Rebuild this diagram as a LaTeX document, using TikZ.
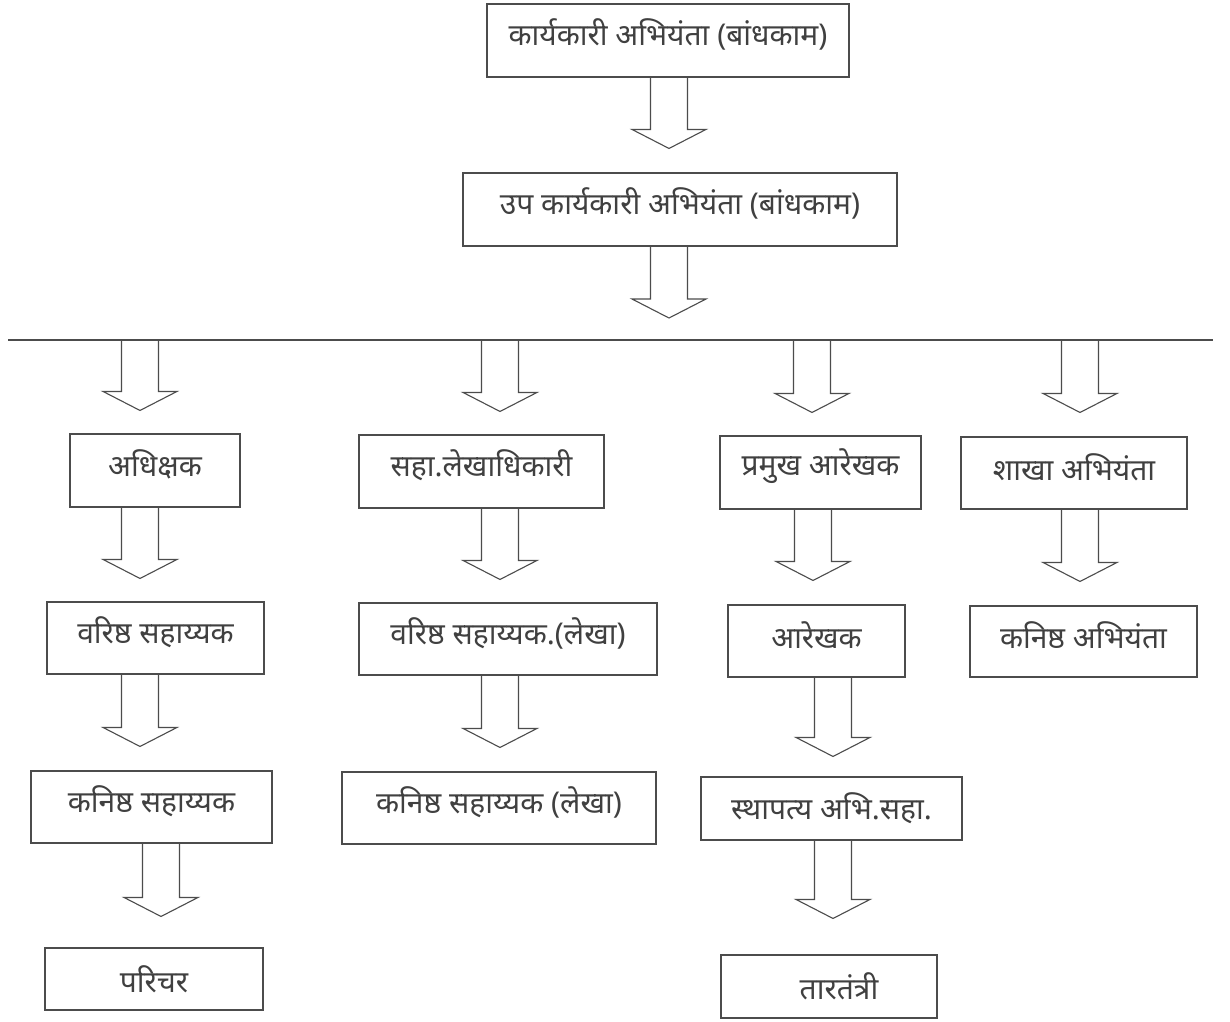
\documentclass[tikz,border=0pt]{standalone}
\usepackage{fontspec}
\newfontfamily\deva[Script=Devanagari]{Noto Sans}
\usetikzlibrary{calc}

\tikzset{
  post/.style 2 args={draw=black!70, line width=1.1pt, minimum width=#1, minimum height=#2,
    inner sep=0pt, font=\deva\fontsize{30}{34}\selectfont, text=black!75},
  blockarr/.style={draw=black!70, line width=1.1pt, line join=miter},
}
% text sits in the upper part of each box
\newcommand\lbl[1]{\raisebox{6pt}[\height][\depth]{#1}}
% block arrow: from, to, x, gap above target
\newcommand\barrow[4]{%
  \draw[blockarr] let \p1=(#1), \p2=(#2) in
    (#3-18.5,\y1) -- (#3-18.5,\y2+#4+19) -- (#3-37,\y2+#4+19) -- (#3,\y2+#4)
    -- (#3+37,\y2+#4+19) -- (#3+18.5,\y2+#4+19) -- (#3+18.5,\y1);
}

\begin{document}
\begin{tikzpicture}[x=1pt, y=-1pt]
    \useasboundingbox[fill=white] (0,0) rectangle (1230,1021);

    \node[post={362}{73}] (exe) at (668,40.5) {\lbl{कार्यकारी अभियंता (बांधकाम)}};
    \node[post={434}{73}] (dyexe) at (680,209.5) {\lbl{उप कार्यकारी अभियंता (बांधकाम)}};

    \coordinate (busL) at (8,340);
    \coordinate (busR) at (1213,340);
    \draw[blockarr] (busL) -- (busR);

    % first row
    \node[post={170}{73}] (supd) at (155,470.5) {\lbl{अधिक्षक}};
    \node[post={245}{73}] (aao) at (481.5,471.5) {\lbl{सहा.लेखाधिकारी}};
    \node[post={201}{73}] (hdm) at (820.5,472.5) {\lbl{प्रमुख आरेखक}};
    \node[post={226}{72}] (seng) at (1074,473) {\lbl{शाखा अभियंता}};

    % second row
    \node[post={217}{72}] (srast) at (155.5,638) {\lbl{वरिष्ठ सहाय्यक}};
    \node[post={298}{72}] (srasta) at (508,639) {\lbl{वरिष्ठ सहाय्यक.(लेखा)}};
    \node[post={177}{72}] (dm) at (816.5,641) {\lbl{आरेखक}};
    \node[post={227}{71}] (jeng) at (1083.5,641.5) {\lbl{कनिष्ठ अभियंता}};

    % third row
    \node[post={241}{72}] (jrast) at (151.5,807) {\lbl{कनिष्ठ सहाय्यक}};
    \node[post={314}{72}] (jrasta) at (499,808) {\lbl{कनिष्ठ सहाय्यक (लेखा)}};
    \node[post={261}{63}] (arch) at (831.5,808.5) {स्थापत्य अभि.सहा.\hspace{10pt}};

    % last row
    \node[post={218}{62}] (att) at (154,979) {परिचर};
    \node[post={216}{63}] (tel) at (829,986.5) {\hspace{20pt}तारतंत्री};

    \barrow{exe.south}{dyexe.north}{669}{24}
    \barrow{dyexe.south}{busL}{669}{22}

    \barrow{busL}{supd.north}{140}{23}
    \barrow{busL}{aao.north}{500}{23}
    \barrow{busL}{hdm.north}{812}{23}
    \barrow{busL}{seng.north}{1080}{24}

    \barrow{supd.south}{srast.north}{140}{23}
    \barrow{aao.south}{srasta.north}{500}{23}
    \barrow{hdm.south}{dm.north}{813}{24}
    \barrow{seng.south}{jeng.north}{1080}{24}

    \barrow{srast.south}{jrast.north}{140}{24}
    \barrow{srasta.south}{jrasta.north}{500}{24}
    \barrow{dm.south}{arch.north}{833}{20}

    \barrow{jrast.south}{att.north}{161}{31}
    \barrow{arch.south}{tel.north}{833}{36}
\end{tikzpicture}
\end{document}
